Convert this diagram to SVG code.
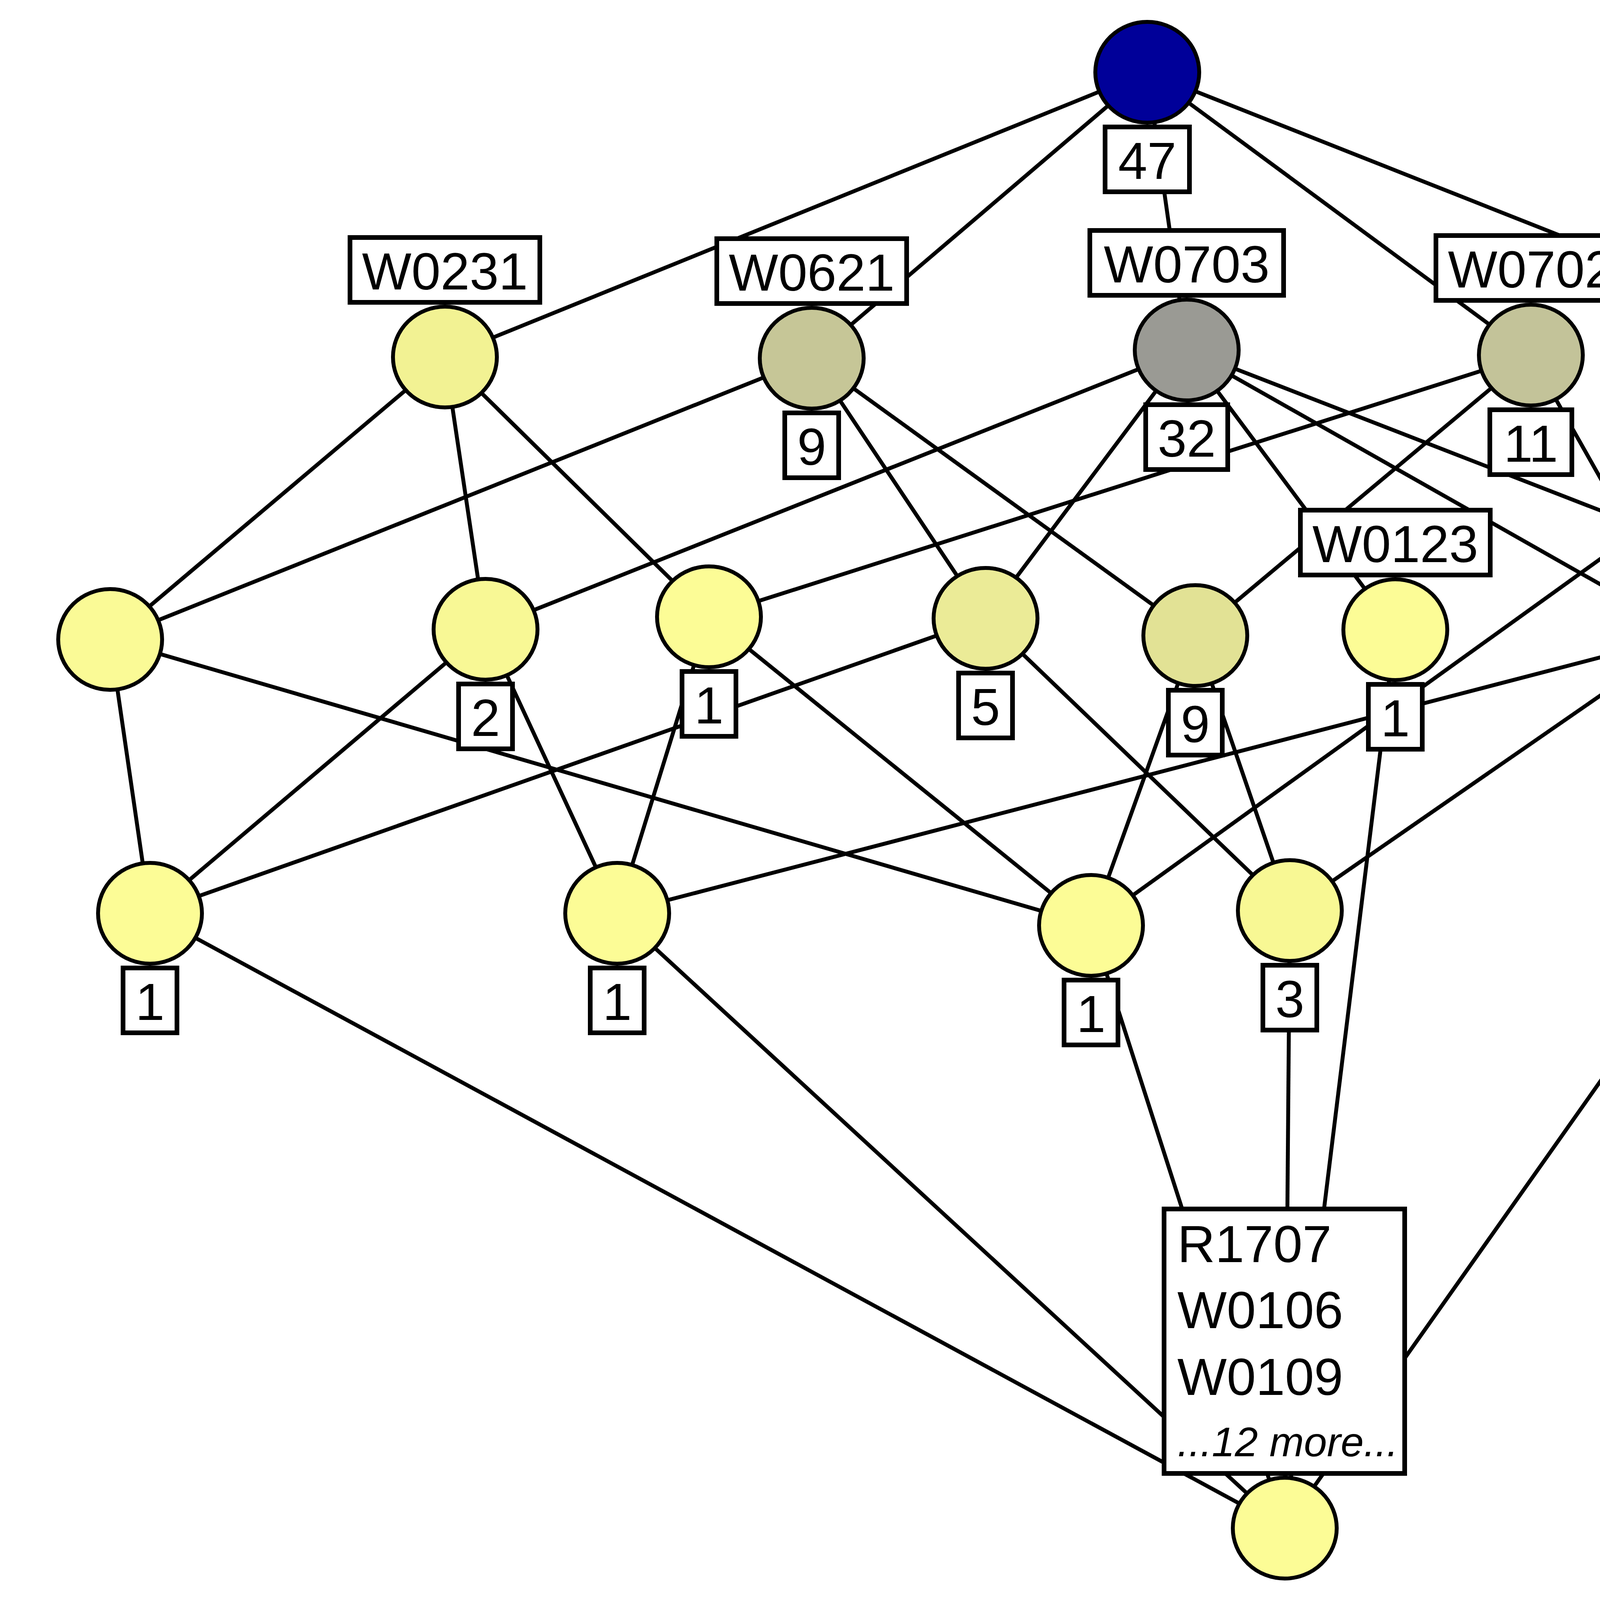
<svg xmlns="http://www.w3.org/2000/svg" width="5418" height="4105" viewBox="0 0 5418 4105">
<style>
.e{stroke:#000;stroke-width:10;fill:none}
.n{stroke:#000;stroke-width:10}
.b{fill:#fff;stroke:#000;stroke-width:12}
.t{font-family:"Liberation Sans",Arial,sans-serif;font-size:134px;fill:#000;text-anchor:middle}
.l{font-family:"Liberation Sans",Arial,sans-serif;font-size:134px;fill:#000}
.m{font-family:"Liberation Sans",Arial,sans-serif;font-size:106px;font-style:italic;fill:#000}
</style>
<rect width="5418" height="4105" fill="#fff"/>
<g id="connectors">
<line class="e" x1="2937" y1="185" x2="1139" y2="914"/>
<line class="e" x1="2937" y1="185" x2="2078" y2="917"/>
<line class="e" x1="2937" y1="185" x2="3038" y2="896"/>
<line class="e" x1="2937" y1="185" x2="3919" y2="909"/>
<line class="e" x1="2937" y1="185" x2="4803" y2="923"/>
<line class="e" x1="1139" y1="914" x2="282" y2="1637"/>
<line class="e" x1="1139" y1="914" x2="1243" y2="1611"/>
<line class="e" x1="1139" y1="914" x2="1815" y2="1579"/>
<line class="e" x1="2078" y1="917" x2="282" y2="1637"/>
<line class="e" x1="2078" y1="917" x2="2523" y2="1583"/>
<line class="e" x1="2078" y1="917" x2="3060" y2="1627"/>
<line class="e" x1="3038" y1="896" x2="1243" y2="1611"/>
<line class="e" x1="3038" y1="896" x2="2523" y2="1583"/>
<line class="e" x1="3038" y1="896" x2="3572" y2="1612"/>
<line class="e" x1="3038" y1="896" x2="4323" y2="1624"/>
<line class="e" x1="3038" y1="896" x2="4907" y2="1621"/>
<line class="e" x1="3919" y1="909" x2="1815" y2="1579"/>
<line class="e" x1="3919" y1="909" x2="3060" y2="1627"/>
<line class="e" x1="3919" y1="909" x2="4323" y2="1624"/>
<line class="e" x1="4803" y1="923" x2="4907" y2="1621"/>
<line class="e" x1="4803" y1="923" x2="2793" y2="2369"/>
<line class="e" x1="282" y1="1637" x2="384" y2="2338"/>
<line class="e" x1="282" y1="1637" x2="2793" y2="2369"/>
<line class="e" x1="1243" y1="1611" x2="384" y2="2338"/>
<line class="e" x1="1243" y1="1611" x2="1580" y2="2338"/>
<line class="e" x1="1815" y1="1579" x2="1580" y2="2338"/>
<line class="e" x1="1815" y1="1579" x2="2793" y2="2369"/>
<line class="e" x1="2523" y1="1583" x2="384" y2="2338"/>
<line class="e" x1="2523" y1="1583" x2="3302" y2="2331"/>
<line class="e" x1="3060" y1="1627" x2="2793" y2="2369"/>
<line class="e" x1="3060" y1="1627" x2="3302" y2="2331"/>
<line class="e" x1="3572" y1="1612" x2="3289" y2="3912"/>
<line class="e" x1="4323" y1="1624" x2="1580" y2="2338"/>
<line class="e" x1="4323" y1="1624" x2="3302" y2="2331"/>
<line class="e" x1="4907" y1="1621" x2="3289" y2="3912"/>
<line class="e" x1="384" y1="2338" x2="3289" y2="3912"/>
<line class="e" x1="1580" y1="2338" x2="3289" y2="3912"/>
<line class="e" x1="2793" y1="2369" x2="3289" y2="3912"/>
<line class="e" x1="3302" y1="2331" x2="3289" y2="3912"/>
</g>
<g id="node-top">
<ellipse class="n" cx="2937" cy="185" rx="133" ry="129" fill="#000099"/>
<rect class="b" x="2829" y="325" width="216" height="166"/>
<text class="t" x="2937" y="458">47</text>
</g>
<g id="node-W0231">
<ellipse class="n" cx="1139" cy="914" rx="133" ry="129" fill="#f2f293"/>
<rect class="b" x="896" y="608" width="486" height="166"/>
<text class="t" x="1139" y="741">W0231</text>
</g>
<g id="node-W0621">
<ellipse class="n" cx="2078" cy="917" rx="133" ry="129" fill="#c6c697"/>
<rect class="b" x="1835" y="611" width="486" height="166"/>
<text class="t" x="2078" y="744">W0621</text>
<rect class="b" x="2009" y="1057" width="138" height="166"/>
<text class="t" x="2078" y="1190">9</text>
</g>
<g id="node-W0703">
<ellipse class="n" cx="3038" cy="896" rx="133" ry="129" fill="#9a9a94"/>
<rect class="b" x="2790" y="590" width="496" height="166"/>
<text class="t" x="3038" y="723">W0703</text>
<rect class="b" x="2933" y="1036" width="210" height="166"/>
<text class="t" x="3038" y="1169">32</text>
</g>
<g id="node-W0702">
<ellipse class="n" cx="3919" cy="909" rx="133" ry="129" fill="#c3c399"/>
<rect class="b" x="3676" y="603" width="486" height="166"/>
<text class="t" x="3919" y="736">W0702</text>
<rect class="b" x="3814" y="1049" width="210" height="166"/>
<text class="t" x="3919" y="1182">11</text>
</g>
<g id="node-W0102">
<ellipse class="n" cx="4803" cy="923" rx="133" ry="129" fill="#fafa96"/>
<rect class="b" x="4560" y="617" width="486" height="166"/>
<text class="t" x="4803" y="750">W0102</text>
</g>
<g id="node-A">
<ellipse class="n" cx="282" cy="1637" rx="133" ry="129" fill="#fafa96"/>
</g>
<g id="node-B">
<ellipse class="n" cx="1243" cy="1611" rx="133" ry="129" fill="#f8f895"/>
<rect class="b" x="1174" y="1751" width="138" height="166"/>
<text class="t" x="1243" y="1884">2</text>
</g>
<g id="node-C">
<ellipse class="n" cx="1815" cy="1579" rx="133" ry="129" fill="#fcfc96"/>
<rect class="b" x="1746" y="1719" width="138" height="166"/>
<text class="t" x="1815" y="1852">1</text>
</g>
<g id="node-D">
<ellipse class="n" cx="2523" cy="1583" rx="133" ry="129" fill="#ebeb97"/>
<rect class="b" x="2454" y="1723" width="138" height="166"/>
<text class="t" x="2523" y="1856">5</text>
</g>
<g id="node-E">
<ellipse class="n" cx="3060" cy="1627" rx="133" ry="129" fill="#e2e295"/>
<rect class="b" x="2991" y="1767" width="138" height="166"/>
<text class="t" x="3060" y="1900">9</text>
</g>
<g id="node-W0123">
<ellipse class="n" cx="3572" cy="1612" rx="133" ry="129" fill="#fcfc96"/>
<rect class="b" x="3329" y="1306" width="486" height="166"/>
<text class="t" x="3572" y="1439">W0123</text>
<rect class="b" x="3503" y="1752" width="138" height="166"/>
<text class="t" x="3572" y="1885">1</text>
</g>
<g id="node-G">
<ellipse class="n" cx="4323" cy="1624" rx="133" ry="129" fill="#eeee98"/>
<rect class="b" x="4254" y="1764" width="138" height="166"/>
<text class="t" x="4323" y="1897">4</text>
</g>
<g id="node-H">
<ellipse class="n" cx="4907" cy="1621" rx="133" ry="129" fill="#fcfc96"/>
<rect class="b" x="4838" y="1761" width="138" height="166"/>
<text class="t" x="4907" y="1894">1</text>
</g>
<g id="node-I">
<ellipse class="n" cx="384" cy="2338" rx="133" ry="129" fill="#fcfc96"/>
<rect class="b" x="315" y="2478" width="138" height="166"/>
<text class="t" x="384" y="2611">1</text>
</g>
<g id="node-J">
<ellipse class="n" cx="1580" cy="2338" rx="133" ry="129" fill="#fcfc96"/>
<rect class="b" x="1511" y="2478" width="138" height="166"/>
<text class="t" x="1580" y="2611">1</text>
</g>
<g id="node-K">
<ellipse class="n" cx="2793" cy="2369" rx="133" ry="129" fill="#fcfc96"/>
<rect class="b" x="2724" y="2509" width="138" height="166"/>
<text class="t" x="2793" y="2642">1</text>
</g>
<g id="node-L">
<ellipse class="n" cx="3302" cy="2331" rx="133" ry="129" fill="#f8f894"/>
<rect class="b" x="3233" y="2471" width="138" height="166"/>
<text class="t" x="3302" y="2604">3</text>
</g>
<g id="node-bottom">
<ellipse class="n" cx="3289" cy="3912" rx="133" ry="129" fill="#fcfc96"/>
<rect class="b" x="2980" y="3095" width="616" height="677"/>
<text class="l" x="3014" y="3231">R1707</text>
<text class="l" x="3014" y="3400">W0106</text>
<text class="l" x="3014" y="3571">W0109</text>
<text class="m" x="3014" y="3728">...12 more...</text>
</g>
</svg>
